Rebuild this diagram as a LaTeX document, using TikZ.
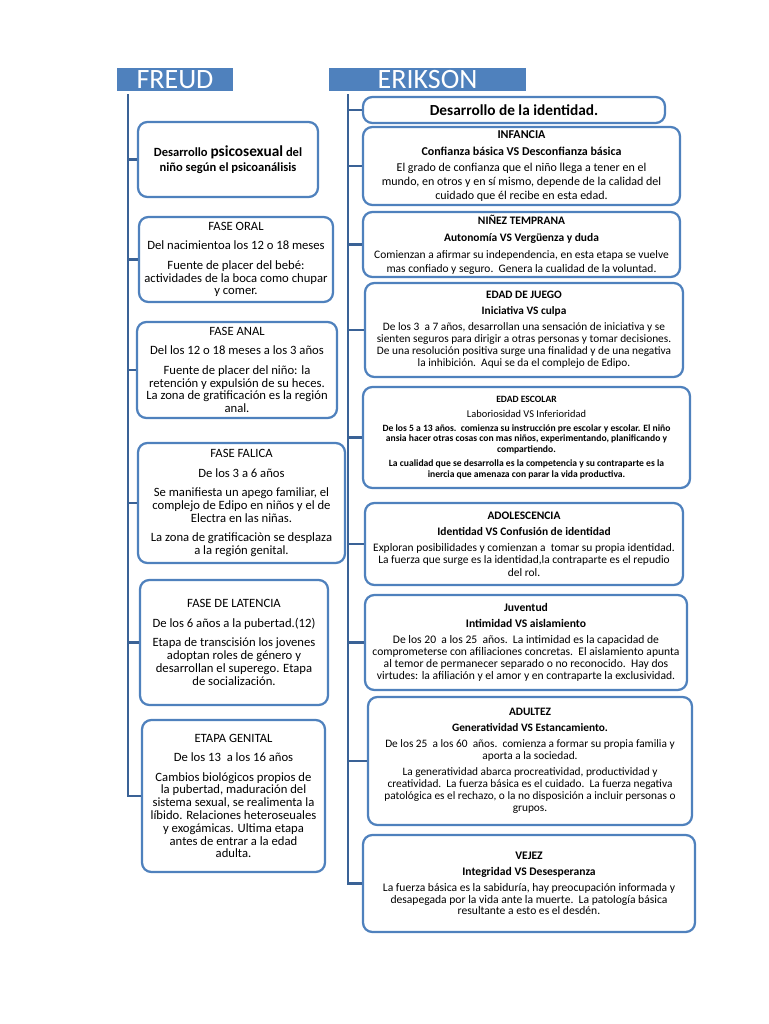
\documentclass[tikz,border=0pt]{standalone}
\usepackage{fontspec}
\setmainfont{Carlito}
\usepackage{xcolor}
\usepackage{tikz}
\usetikzlibrary{positioning, calc, shadows}

\definecolor{boxblue}{HTML}{4F81BD}
\definecolor{linkblue}{HTML}{3A6296}

\begin{document}
\begin{tikzpicture}[
    x=0.75pt, y=-0.75pt,
    % Define styles for the boxes
    base_box/.style={rectangle, draw=boxblue, line width=1.7pt, rounded corners=7pt, align=center, fill=white, inner sep=2pt},
    freud_box/.style={base_box, font=\fontsize{9.5}{9.6}\selectfont},
    erik_box/.style={base_box, font=\fontsize{8.7}{9.2}\selectfont},
    head_box/.style={rectangle, fill=boxblue, draw=white, line width=2pt, text=white, font=\fontsize{21}{21}\selectfont, text height=13.6pt, text depth=0pt, inner sep=0pt, drop shadow={opacity=0.3, shadow xshift=0.8pt, shadow yshift=-0.8pt}},
    boxsize/.style 2 args={minimum width=#1*0.75pt, minimum height=#2*0.75pt},
    % Styles for the lines
    spine/.style={linkblue, line width=2.2pt},
    branch/.style={linkblue, line width=2.2pt}
]
    \useasboundingbox (0,0) rectangle (768,1024);

    % =========================================================================
    % FREUD COLUMN
    % =========================================================================
    \coordinate (freud_root) at (128,93);

    \node (intro) [freud_box, boxsize={180}{75}, font=\bfseries\fontsize{9.4}{11}\selectfont] at (228,159.5)
        {Desarrollo {\fontsize{11.5}{11}\selectfont psicosexual} del\\niño según el psicoanálisis};

    \node (oral) [freud_box, boxsize={194}{85}] at (236,259.5)
        {FASE ORAL\\[5pt] Del nacimientoa los 12 o 18 meses\\[5pt] Fuente de placer del bebé:\\actividades de la boca como chupar\\y comer.};

    \node (anal) [freud_box, boxsize={200}{96}] at (237,370)
        {FASE ANAL\\[5pt] Del los 12 o 18 meses a los 3 años\\[5pt] Fuente de placer del niño: la\\retención y expulsión de su heces.\\La zona de gratificación es la región\\anal.};

    \node (falica) [freud_box, boxsize={207}{120}] at (241.5,503)
        {FASE FALICA\\[5pt] De los 3 a 6 años\\[5pt] Se manifiesta un apego familiar, el\\complejo de Edipo en niños y el de\\Electra en las niñas.\\[5pt] La zona de gratificaciòn se desplaza\\a la región genital.};

    \node (latencia) [freud_box, boxsize={188}{125}] at (234,642.5)
        {FASE DE LATENCIA\\[5pt] De los 6 años a la pubertad.(12)\\[5pt] Etapa de transcisión los jovenes\\adoptan roles de género y\\desarrollan el superego. Etapa\\de socialización.};

    \node (genital) [freud_box, boxsize={183}{152}] at (233.5,796)
        {ETAPA GENITAL\\[5pt] De los 13\ \ a los 16 años\\[5pt] Cambios biológicos propios de\\la pubertad, maduración del\\sistema sexual, se realimenta la\\líbido. Relaciones heteroseuales\\y exogámicas. Ultima etapa\\antes de entrar a la edad\\adulta.};

    % Spine and branches
    \draw [spine] (freud_root) |- (genital.west);
    \foreach \n in {intro, oral, anal, falica, latencia}
        \draw [branch] (\n.west -| freud_root) -- (\n.west);

    \node (freud_head) [head_box, boxsize={118}{26}] at (175,79.5) {FREUD};

    % =========================================================================
    % ERIKSON COLUMN
    % =========================================================================
    \coordinate (erik_root) at (348,93);

    \node (identidad) [erik_box, boxsize={302}{26}, font=\bfseries\fontsize{11.5}{12}\selectfont] at (514,110)
        {Desarrollo de la identidad.};

    \node (infancia) [erik_box, boxsize={317}{78}, font=\fontsize{9}{10.4}\selectfont] at (521.5,166)
        {\textbf{INFANCIA}\\[2pt] \textbf{Confianza básica VS Desconfianza básica}\\[2pt] El grado de confianza que el niño llega a tener en el\\mundo, en otros y en sí mismo, depende de la calidad del\\cuidado que él recibe en esta edad.};

    \node (ninez) [erik_box, boxsize={317}{65}, font=\fontsize{8.6}{10}\selectfont] at (521.5,244.5)
        {\textbf{NIÑEZ TEMPRANA}\\[3pt] \textbf{Autonomía VS Vergüenza y duda}\\[3pt] Comienzan a afirmar su independencia, en esta etapa se vuelve\\mas confiado y seguro.\ \ Genera la cualidad de la voluntad.};

    \node (juego) [erik_box, boxsize={318}{94}, font=\fontsize{8.5}{9}\selectfont] at (524,330)
        {\textbf{EDAD DE JUEGO}\\[3pt] \textbf{Iniciativa VS culpa}\\[3pt] De los 3\ \ a 7 años, desarrollan una sensación de iniciativa y se\\sienten seguros para dirigir a otras personas y tomar decisiones.\\De una resolución positiva surge una finalidad y de una negativa\\la inhibición.\ \ Aqui se da el complejo de Edipo.};

    \node (escolar) [erik_box, boxsize={327}{101}, font=\fontsize{7.2}{7.8}\selectfont] at (526.5,437.5)
        {\textbf{EDAD ESCOLAR}\\[3pt] {\fontsize{7.8}{8}\selectfont Laboriosidad VS Inferioridad}\\[3pt] \textbf{De los 5 a 13 años.\ \ comienza su instrucción pre escolar y escolar. El niño}\\\textbf{ansia hacer otras cosas con mas niños, experimentando, planificando y}\\\textbf{compartiendo.}\\[3pt] \textbf{La cualidad que se desarrolla es la competencia y su contraparte es la}\\\textbf{inercia que amenaza con parar la vida productiva.}};

    \node (adolescencia) [erik_box, boxsize={318}{82}, font=\fontsize{8.6}{9.2}\selectfont] at (524,544)
        {\textbf{ADOLESCENCIA}\\[3pt] \textbf{Identidad VS Confusión de identidad}\\[3pt] Exploran posibilidades y comienzan a\ \ tomar su propia identidad.\\La fuerza que surge es la identidad,la contraparte es el repudio\\del rol.};

    \node (juventud) [erik_box, boxsize={322}{95}, font=\fontsize{8.7}{9}\selectfont] at (526,642.5)
        {\textbf{Juventud}\\[3pt] \textbf{Intimidad VS aislamiento}\\[3pt] De los 20\ \ a los 25\ \ años.\ \ La intimidad es la capacidad de\\comprometerse con afiliaciones concretas.\ \ El aislamiento apunta\\al temor de permanecer separado o no reconocido.\ \ Hay dos\\virtudes: la afiliación y el amor y en contraparte la exclusividad.};

    \node (adultez) [erik_box, boxsize={324}{128}, font=\fontsize{8.5}{9}\selectfont] at (530,761)
        {\textbf{ADULTEZ}\\[3pt] \textbf{Generatividad VS Estancamiento.}\\[3pt] De los 25\ \ a los 60\ \ años.\ \ comienza a formar su propia familia y\\aporta a la sociedad.\\[3pt] La generatividad abarca procreatividad, productividad y\\creatividad.\ \ La fuerza básica es el cuidado.\ \ La fuerza negativa\\patológica es el rechazo, o la no disposición a incluir personas o\\grupos.};

    \node (vejez) [erik_box, boxsize={332}{97}, font=\fontsize{8.7}{8.9}\selectfont] at (529,883.5)
        {\textbf{VEJEZ}\\[3pt] \textbf{Integridad VS Desesperanza}\\[3pt] La fuerza básica es la sabiduría, hay preocupación informada y\\desapegada por la vida ante la muerte.\ \ La patología básica\\resultante a esto es el desdén.};

    % Spine and branches
    \draw [spine] (erik_root) |- (vejez.west);
    \foreach \n in {identidad, infancia, ninez, juego, escolar, adolescencia, juventud, adultez}
        \draw [branch] (\n.west -| erik_root) -- (\n.west);

    \node (erik_head) [head_box, boxsize={199}{26}] at (427.5,79.5) {ERIKSON};

\end{tikzpicture}
\end{document}
